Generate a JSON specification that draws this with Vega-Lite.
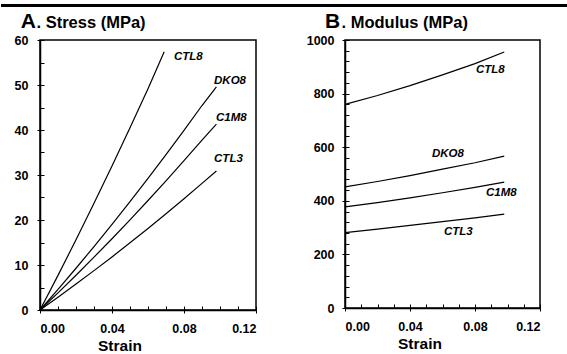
{
  "$schema": "https://vega.github.io/schema/vega-lite/v6.json",
  "background": "white",
  "padding": {"left": 0, "right": 0, "top": 3, "bottom": 0},
  "config": {
    "font": "Liberation Sans",
    "view": {"stroke": "black", "strokeWidth": 1.5},
    "axis": {
      "grid": false,
      "labelFont": "Liberation Sans",
      "labelFontWeight": "bold",
      "labelFontSize": 12.5,
      "labelColor": "black",
      "titleFont": "Liberation Sans",
      "titleFontWeight": "bold",
      "titleColor": "black",
      "domainColor": "black",
      "domainWidth": 1.5,
      "tickColor": "black",
      "tickWidth": 1
    }
  },
  "datasets": {
    "stress": [
      {"series": "CTL8", "strain": 0, "stress": 0},
      {"series": "CTL8", "strain": 0.01, "stress": 7.7},
      {"series": "CTL8", "strain": 0.02, "stress": 15.6},
      {"series": "CTL8", "strain": 0.03, "stress": 23.7},
      {"series": "CTL8", "strain": 0.04, "stress": 31.99},
      {"series": "CTL8", "strain": 0.05, "stress": 40.49},
      {"series": "CTL8", "strain": 0.06, "stress": 49.18},
      {"series": "CTL8", "strain": 0.069, "stress": 57.4},
      {"series": "DKO8", "strain": 0, "stress": 0},
      {"series": "DKO8", "strain": 0.01, "stress": 4.58},
      {"series": "DKO8", "strain": 0.02, "stress": 9.28},
      {"series": "DKO8", "strain": 0.03, "stress": 14.09},
      {"series": "DKO8", "strain": 0.04, "stress": 19.02},
      {"series": "DKO8", "strain": 0.05, "stress": 24.07},
      {"series": "DKO8", "strain": 0.06, "stress": 29.23},
      {"series": "DKO8", "strain": 0.07, "stress": 34.52},
      {"series": "DKO8", "strain": 0.08, "stress": 39.92},
      {"series": "DKO8", "strain": 0.09, "stress": 45.44},
      {"series": "DKO8", "strain": 0.098, "stress": 49.6},
      {"series": "C1M8", "strain": 0, "stress": 0},
      {"series": "C1M8", "strain": 0.01, "stress": 3.82},
      {"series": "C1M8", "strain": 0.02, "stress": 7.73},
      {"series": "C1M8", "strain": 0.03, "stress": 11.74},
      {"series": "C1M8", "strain": 0.04, "stress": 15.84},
      {"series": "C1M8", "strain": 0.05, "stress": 20.04},
      {"series": "C1M8", "strain": 0.06, "stress": 24.33},
      {"series": "C1M8", "strain": 0.07, "stress": 28.71},
      {"series": "C1M8", "strain": 0.08, "stress": 33.19},
      {"series": "C1M8", "strain": 0.09, "stress": 37.77},
      {"series": "C1M8", "strain": 0.098, "stress": 41.3},
      {"series": "CTL3", "strain": 0, "stress": 0},
      {"series": "CTL3", "strain": 0.01, "stress": 2.85},
      {"series": "CTL3", "strain": 0.02, "stress": 5.76},
      {"series": "CTL3", "strain": 0.03, "stress": 8.75},
      {"series": "CTL3", "strain": 0.04, "stress": 11.8},
      {"series": "CTL3", "strain": 0.05, "stress": 14.93},
      {"series": "CTL3", "strain": 0.06, "stress": 18.13},
      {"series": "CTL3", "strain": 0.07, "stress": 21.4},
      {"series": "CTL3", "strain": 0.08, "stress": 24.73},
      {"series": "CTL3", "strain": 0.09, "stress": 28.14},
      {"series": "CTL3", "strain": 0.098, "stress": 30.9}
    ],
    "modulus": [
      {"series": "CTL8", "strain": 0, "modulus": 760},
      {"series": "CTL8", "strain": 0.02, "modulus": 793},
      {"series": "CTL8", "strain": 0.04, "modulus": 830},
      {"series": "CTL8", "strain": 0.06, "modulus": 870},
      {"series": "CTL8", "strain": 0.08, "modulus": 912},
      {"series": "CTL8", "strain": 0.098, "modulus": 955},
      {"series": "DKO8", "strain": 0, "modulus": 452},
      {"series": "DKO8", "strain": 0.02, "modulus": 472},
      {"series": "DKO8", "strain": 0.04, "modulus": 494},
      {"series": "DKO8", "strain": 0.06, "modulus": 518},
      {"series": "DKO8", "strain": 0.08, "modulus": 542},
      {"series": "DKO8", "strain": 0.098, "modulus": 567},
      {"series": "C1M8", "strain": 0, "modulus": 377},
      {"series": "C1M8", "strain": 0.02, "modulus": 393},
      {"series": "C1M8", "strain": 0.04, "modulus": 411},
      {"series": "C1M8", "strain": 0.06, "modulus": 430},
      {"series": "C1M8", "strain": 0.08, "modulus": 450},
      {"series": "C1M8", "strain": 0.098, "modulus": 470},
      {"series": "CTL3", "strain": 0, "modulus": 281},
      {"series": "CTL3", "strain": 0.02, "modulus": 294},
      {"series": "CTL3", "strain": 0.04, "modulus": 308},
      {"series": "CTL3", "strain": 0.06, "modulus": 322},
      {"series": "CTL3", "strain": 0.08, "modulus": 336},
      {"series": "CTL3", "strain": 0.098, "modulus": 350}
    ],
    "stressLabels": [
      {"label": "CTL8", "strain": 0.0744, "stress": 56.2},
      {"label": "DKO8", "strain": 0.0967, "stress": 51.0},
      {"label": "C1M8", "strain": 0.0978, "stress": 42.6},
      {"label": "CTL3", "strain": 0.0967, "stress": 33.6}
    ],
    "modulusLabels": [
      {"label": "CTL8", "strain": 0.0806, "modulus": 888},
      {"label": "DKO8", "strain": 0.0535, "modulus": 575},
      {"label": "C1M8", "strain": 0.0868, "modulus": 429},
      {"label": "CTL3", "strain": 0.0609, "modulus": 284}
    ]
  },
  "spacing": 89,
  "bounds": "flush",
  "hconcat": [
    {
      "width": 216,
      "height": 270,
      "layer": [
        {
          "data": {"values": [{"rule": "header"}]},
          "mark": {"type": "rect", "color": "black", "clip": false},
          "encoding": {
            "x": {"datum": -0.021667, "type": "quantitative", "scale": {"domain": [0, 0.12], "nice": false, "zero": false}, "axis": null},
            "x2": {"datum": 0.29333},
            "y": {"datum": 68, "type": "quantitative", "scale": {"domain": [0, 60], "nice": false}, "axis": null},
            "y2": {"datum": 67.333}
          }
        },
        {
          "data": {"name": "stress"},
          "mark": {"type": "line", "color": "black", "strokeWidth": 1.2},
          "encoding": {
            "x": {"field": "strain", "type": "quantitative",
              "scale": {"domain": [0, 0.12], "nice": false, "zero": false},
              "axis": {"orient": "bottom", "values": [0, 0.04, 0.08, 0.12], "format": ".2f",
                "tickSize": 3, "labelPadding": 9, "title": "Strain", "titleFontSize": 15.5,
                "titleAlign": "center", "titleBaseline": "alphabetic", "titleAnchor": null, "titleX": 79.5, "titleY": 40}},
            "y": {"field": "stress", "type": "quantitative",
              "scale": {"domain": [0, 60], "nice": false},
              "axis": {"orient": "left", "values": [0, 10, 20, 30, 40, 50, 60],
                "tickSize": 3, "labelPadding": 9, "title": "A", "titleFontSize": 21,
                "titleAngle": 0, "titleAlign": "left", "titleBaseline": "alphabetic", "titleAnchor": null,
                "titleX": -19.7, "titleY": -12.5}},
            "detail": {"field": "series"}
          }
        },
        {
          "data": {"name": "stressLabels"},
          "mark": {"type": "text", "align": "left", "baseline": "middle", "font": "Liberation Sans", "fontStyle": "italic", "fontWeight": "bold", "fontSize": 11.5, "color": "black"},
          "encoding": {
            "x": {"field": "strain", "type": "quantitative",
              "scale": {"domain": [0, 0.12], "nice": false, "zero": false},
              "axis": {"orient": "top", "offset": -270, "values": [0, 0.01, 0.02, 0.03, 0.04, 0.05, 0.06, 0.07, 0.08, 0.09, 0.1, 0.11, 0.12],
                "tickSize": 4, "labels": false, "domain": false, "title": null}},
            "y": {"field": "stress", "type": "quantitative",
              "scale": {"domain": [0, 60], "nice": false},
              "axis": {"orient": "right", "offset": -216, "values": [0, 5, 10, 15, 20, 25, 30, 35, 40, 45, 50, 55, 60],
                "tickSize": 4, "labels": false, "domain": false, "title": ". Stress (MPa)", "titleFontSize": 16.5,
                "titleAngle": 0, "titleAlign": "left", "titleBaseline": "alphabetic", "titleAnchor": null,
                "titleX": -4, "titleY": -12.5}},
            "text": {"field": "label"}
          }
        }
      ],
      "resolve": {"axis": {"x": "independent", "y": "independent"}}
    },
    {
      "width": 195,
      "height": 268,
      "layer": [
        {
          "data": {"name": "modulus"},
          "mark": {"type": "line", "color": "black", "strokeWidth": 1.2},
          "encoding": {
            "x": {"field": "strain", "type": "quantitative",
              "scale": {"domain": [0, 0.12], "nice": false, "zero": false},
              "axis": {"orient": "bottom", "values": [0, 0.04, 0.08, 0.12], "format": ".2f",
                "tickSize": 3, "labelPadding": 9, "title": "Strain", "titleFontSize": 15.5,
                "titleAlign": "center", "titleBaseline": "alphabetic", "titleAnchor": null, "titleX": 74.5, "titleY": 40}},
            "y": {"field": "modulus", "type": "quantitative",
              "scale": {"domain": [0, 1000], "nice": false},
              "axis": {"orient": "left", "values": [0, 200, 400, 600, 800, 1000], "format": "d",
                "tickSize": 3, "labelPadding": 8, "title": "B", "titleFontSize": 21,
                "titleAngle": 0, "titleAlign": "left", "titleBaseline": "alphabetic", "titleAnchor": null,
                "titleX": -20.5, "titleY": -12.5}},
            "detail": {"field": "series"}
          }
        },
        {
          "data": {"name": "modulusLabels"},
          "mark": {"type": "text", "align": "left", "baseline": "middle", "font": "Liberation Sans", "fontStyle": "italic", "fontWeight": "bold", "fontSize": 11.5, "color": "black"},
          "encoding": {
            "x": {"field": "strain", "type": "quantitative",
              "scale": {"domain": [0, 0.12], "nice": false, "zero": false},
              "axis": {"orient": "top", "offset": -268, "values": [0, 0.01, 0.02, 0.03, 0.04, 0.05, 0.06, 0.07, 0.08, 0.09, 0.1, 0.11, 0.12],
                "tickSize": 4, "labels": false, "domain": false, "title": null}},
            "y": {"field": "modulus", "type": "quantitative",
              "scale": {"domain": [0, 1000], "nice": false},
              "axis": {"orient": "right", "offset": -195, "values": [0, 40, 80, 120, 160, 200, 240, 280, 320, 360, 400, 440, 480, 520, 560, 600, 640, 680, 720, 760, 800, 840, 880, 920, 960, 1000],
                "tickSize": 4, "labels": false, "domain": false, "title": ". Modulus (MPa)", "titleFontSize": 16.5,
                "titleAngle": 0, "titleAlign": "left", "titleBaseline": "alphabetic", "titleAnchor": null,
                "titleX": -4, "titleY": -12.5}},
            "text": {"field": "label"}
          }
        }
      ],
      "resolve": {"axis": {"x": "independent", "y": "independent"}}
    }
  ]
}
